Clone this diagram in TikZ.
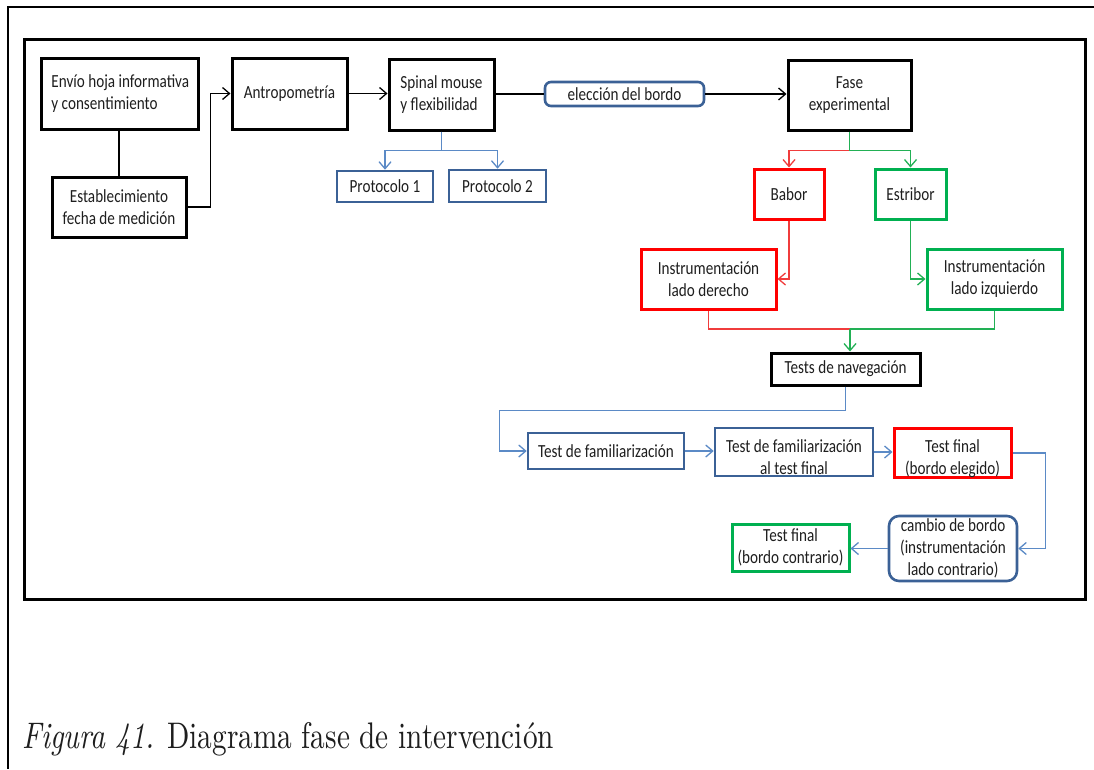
\documentclass[tikz,border=0pt]{standalone}
\usepackage{fontspec}
\usetikzlibrary{arrows.meta}
\newfontfamily\boxfont{Carlito}[FakeStretch=0.82]
\newfontfamily\capfont{lmroman10-regular.otf}[ItalicFont=lmroman10-italic.otf, FakeStretch=0.79]

\definecolor{boxblue}{HTML}{3B6196}
\definecolor{lineblue}{HTML}{5B8AC6}
\definecolor{boxred}{HTML}{FF0000}
\definecolor{boxgreen}{HTML}{00B050}
\definecolor{linered}{HTML}{F03C3C}
\definecolor{linegreen}{HTML}{22B055}
\definecolor{ink}{HTML}{1E1E1E}

\newcommand{\lowtext}{\rule{0pt}{24pt}}

\tikzset{
  box/.style={draw, line width=3pt, inner sep=0pt, align=center,
    font=\boxfont\fontsize{18.5}{22}\selectfont, text=ink},
  kbox/.style={box, draw=black},
  bbox/.style={box, draw=boxblue, line width=2.6pt},
  rbox/.style={box, draw=boxred},
  gbox/.style={box, draw=boxgreen},
  conn/.style={line width=1.3pt},
  tip/.style={-{Straight Barb[length=7pt,width=12pt]}},
  kline/.style={conn, draw=black},
  bline/.style={conn, draw=lineblue},
  rline/.style={conn, draw=linered},
  gline/.style={conn, draw=linegreen}
}

\begin{document}
\begin{tikzpicture}[x=1pt,y=-1pt]
\useasboundingbox (0,0) rectangle (1094,769);

% page border and figure frame
\draw[line width=2pt] (1094,7) -- (8,7) -- (8,769);
\draw[line width=3pt] (24,39) rectangle (1085,599);

% first row
\node[kbox, align=left, minimum width=157, minimum height=71] (envio) at (120.3,93.5)
  {Envío hoja informativa\\y consentimiento};
\node[kbox, minimum width=134, minimum height=60] (estab) at (119,207)
  {Establecimiento\\fecha de medición};
\node[kbox, minimum width=115, minimum height=71] (antro) at (289.5,93.5)
  {Antropometría};
\node[kbox, align=left, minimum width=105, minimum height=71] (spinal) at (441.5,94.5)
  {Spinal mouse\\y flexibilidad};
\node[bbox, rounded corners=6pt, minimum width=159, minimum height=24] (elec) at (624.5,94)
  {elección del bordo};
\node[kbox, minimum width=123, minimum height=70] (fase) at (849.5,95)
  {Fase\\experimental};

% protocols
\node[bbox, minimum width=96, minimum height=31] (p1) at (385,186.5) {Protocolo 1};
\node[bbox, minimum width=97, minimum height=32] (p2) at (497.5,186) {Protocolo 2};

% sides
\node[rbox, minimum width=70, minimum height=50] (babor) at (789,194) {Babor};
\node[gbox, minimum width=71, minimum height=50] (estribor) at (910.5,194) {Estribor};
\node[rbox, minimum width=135, minimum height=60] (instrD) at (708.5,279)
  {Instrumentación\\lado derecho};
\node[gbox, minimum width=135, minimum height=60] (instrI) at (994.5,279)
  {Instrumentación\\lado izquierdo};
\node[kbox, minimum width=149, minimum height=32] (tests) at (845.5,369)
  {Tests de navegación};

% test sequence
\node[bbox, minimum width=156, minimum height=36] (fam) at (606,451)
  {Test de familiarización};
\node[bbox, minimum width=158, minimum height=48] (fam2) at (794,452)
  {\lowtext Test de familiarización\\al test final};
\node[rbox, minimum width=117, minimum height=48] (final1) at (952.5,453)
  {\lowtext Test final\\(bordo elegido)};
\node[bbox, rounded corners=10pt, minimum width=128, minimum height=65] (cambio) at (953,548.5)
  {cambio de bordo\\(instrumentación\\lado contrario)};
\node[gbox, minimum width=117, minimum height=47] (final2) at (790.5,547.5)
  {Test final\\(bordo contrario)};

% black connectors
\draw[kline] (envio.south -| estab.north) -- (estab.north);
\draw[kline, tip] (estab.east) -- ++(23,0) |- (antro.west);
\draw[kline, tip] (antro.east) -- (antro.east -| spinal.west);
\draw[kline] (spinal.east |- elec.west) -- (elec.west);
\draw[kline, tip] (elec.east) -- (elec.east -| fase.west);

% protocols
\draw[bline, tip] (spinal.south) -- ++(0,19) -| (p1.north);
\draw[bline, tip] (spinal.south) -- ++(0,19) -| (p2.north);

% split into the two sides
\coordinate (split) at ([yshift=-19pt]fase.south);
\draw[rline, tip] (split) -| (babor.north);
\draw[gline, tip] (fase.south) -- (split) -| (estribor.north);
\draw[rline, tip] (babor.south) |- (instrD.east);
\draw[gline, tip] (estribor.south) |- (instrI.west);

% merge into navigation tests
\coordinate (merge) at (850,329);
\draw[rline] (instrD.south) |- (merge);
\draw[gline] (instrI.south) |- (merge);
\draw[gline, tip] (merge) -- (merge |- tests.north);

% test sequence connectors
\draw[bline, tip] (tests.south) -- ++(0,24) -| ([xshift=-27pt]fam.west) -- (fam.west);
\draw[bline, tip] (fam.east) -- (fam.east -| fam2.west);
\draw[bline, tip] (fam2.east) -- (fam2.east -| final1.west);
\draw[bline, tip] (final1.east) -- ++(33,0) |- (cambio.east);
\draw[bline, tip] (cambio.west) -- (cambio.west -| final2.east);

% caption
\node[anchor=base west, inner sep=0pt, text=ink,
  font=\capfont\fontsize{37}{42}\selectfont] (caption) at (22,748)
  {\textit{Figura 41.} Diagrama fase de intervención};
\end{tikzpicture}
\end{document}
